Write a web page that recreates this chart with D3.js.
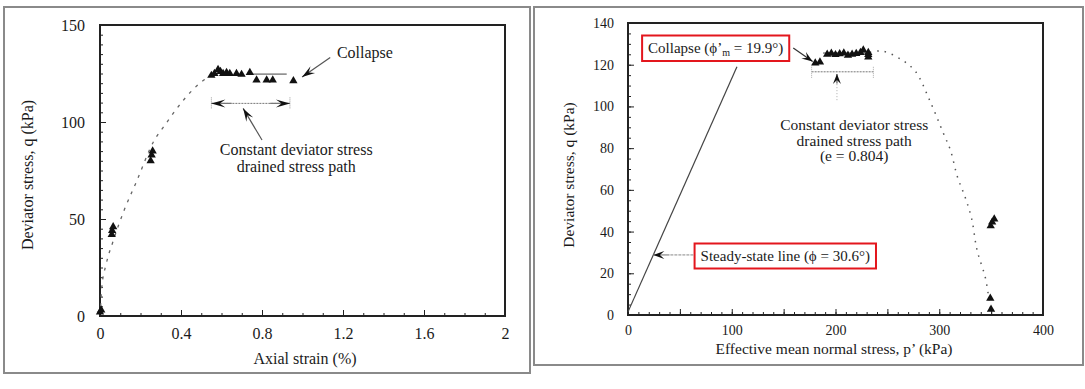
<!DOCTYPE html>
<html>
<head>
<meta charset="utf-8">
<script src="https://cdn.jsdelivr.net/npm/d3@7"></script>
<style>
  body { margin: 0; background: #fff; }
  .domain { display: none; }
  .tick line { stroke: #222; }
</style>
</head>
<body>
<div class="fig"></div>
<script>
//data
// left: deviator stress vs axial strain
const leftStrain = [0, 0.006, 0.058, 0.06, 0.065, 0.25, 0.255, 0.26, 0.55, 0.565, 0.583, 0.595, 0.608, 0.625, 0.641, 0.674, 0.699, 0.740, 0.773, 0.823, 0.853, 0.955];
const leftQ = [2, 3, 42, 44, 46, 80, 83, 85, 124, 125, 127, 126, 125, 125.5, 125, 125, 124.5, 125.5, 121.6, 121.6, 121.6, 121.2];
const leftTrendStrain = [0.003, 0.008, 0.031, 0.063, 0.121, 0.179, 0.265, 0.328, 0.369, 0.457, 0.525, 0.55];
const leftTrendQ = [5, 14, 27, 38, 55, 69, 90, 99.5, 105.5, 116.5, 122.5, 124];
const leftXTicks = [0, 0.4, 0.8, 1.2, 1.6, 2];
const leftYTicks = [0, 50, 100, 150];

// right: deviator stress vs effective mean normal stress
const rightP = [180.5, 185, 192, 196, 200, 204, 208, 212, 216, 220, 224, 226.8, 231.6, 231.6, 231.6, 349.6, 351, 353, 349.2, 349.9];
const rightQ = [120.8, 121.3, 125, 125.5, 124.8, 125.2, 125.6, 124.5, 125, 125.3, 125.8, 127, 123.7, 124.8, 125.8, 42.7, 44.5, 46, 8, 2.7];
const rightTrendP = [233, 245.5, 264, 277.3, 290.7, 304, 310.8, 317.5, 325.3, 331.3, 336.4, 344.4, 347.6, 349.5];
const rightTrendQ = [126, 126.5, 122.3, 116.6, 103, 87.1, 79, 66.3, 56, 46, 31.2, 18, 8.8, 3];
const steadyP = [0, 105];
const steadyQ = [1.5, 119];
const rightXTicks = [0, 100, 200, 300, 400];
const rightYTicks = [0, 20, 40, 60, 80, 100, 120, 140];

const FONT = '"Liberation Serif", "Times New Roman", "DejaVu Serif", serif';

//set up SVG
const SVGWIDTH = 1085;
const SVGHEIGHT = 389;

let svg = d3.select('.fig')
  .append('svg')
  .attr('width', SVGWIDTH)
  .attr('height', SVGHEIGHT);

svg.append('rect').attr('width', SVGWIDTH).attr('height', SVGHEIGHT).attr('fill', '#fff');

// panel frames
svg.append('rect').attr('x', 4).attr('y', 7).attr('width', 526).attr('height', 366)
  .attr('fill', 'none').attr('stroke', '#8a8a8a').attr('stroke-width', 2);
svg.append('rect').attr('x', 534).attr('y', 7).attr('width', 549).attr('height', 358)
  .attr('fill', 'none').attr('stroke', '#8a8a8a').attr('stroke-width', 2);

const tri = d3.symbol().type(d3.symbolTriangle).size(30);

function arrow(g, x1, y1, x2, y2, col, head) {
  g.append('line')
    .attr('x1', x1).attr('y1', y1).attr('x2', x2).attr('y2', y2)
    .attr('stroke', col).attr('stroke-width', 1.2);
  let a = Math.atan2(y2 - y1, x2 - x1);
  let L = head || 11, W = 4;
  let bx = x2 - L * Math.cos(a), by = y2 - L * Math.sin(a);
  let mx = x2 - L * 0.6 * Math.cos(a), my = y2 - L * 0.6 * Math.sin(a);
  g.append('path')
    .attr('d', `M${x2},${y2}L${bx - W * Math.sin(a)},${by + W * Math.cos(a)}L${mx},${my}L${bx + W * Math.sin(a)},${by - W * Math.cos(a)}Z`)
    .attr('fill', '#111');
}

// ---------------- LEFT PLOT ----------------
const L = { left: 100, right: 505, top: 25, bottom: 316 };
const xL = d3.scaleLinear().domain([0, 2]).range([L.left, L.right]);
const yL = d3.scaleLinear().domain([0, 150]).range([L.bottom, L.top]);

let gl = svg.append('g');

gl.append('g').attr('transform', `translate(0,${L.bottom})`)
  .call(d3.axisBottom(xL).tickValues(d3.range(0.1, 2, 0.1)).tickFormat('').tickSize(-3));
gl.append('g').attr('transform', `translate(0,${L.bottom})`)
  .call(d3.axisBottom(xL).tickValues(leftXTicks).tickFormat(d3.format('')).tickSize(-6).tickPadding(12))
  .selectAll('text').style('font-size', '16px');
gl.append('g').attr('transform', `translate(${L.left},0)`)
  .call(d3.axisLeft(yL).tickValues(d3.range(5, 150, 5)).tickFormat('').tickSize(-3));
gl.append('g').attr('transform', `translate(${L.left},0)`)
  .call(d3.axisLeft(yL).tickValues(leftYTicks).tickSize(-6).tickPadding(15))
  .selectAll('text').style('font-size', '16px');

gl.append('rect')
  .attr('x', L.left).attr('y', L.top)
  .attr('width', L.right - L.left).attr('height', L.bottom - L.top)
  .attr('fill', 'none').attr('stroke', '#222').attr('stroke-width', 2);

// dashed trend
gl.append('path')
  .datum(leftTrendStrain.map((d, i) => [d, leftTrendQ[i]]))
  .attr('d', d3.line().x(d => xL(d[0])).y(d => yL(d[1])).curve(d3.curveMonotoneX))
  .attr('fill', 'none').attr('stroke', '#666').attr('stroke-width', 1.3)
  .attr('stroke-dasharray', '3,6');

// constant q line
gl.append('line')
  .attr('x1', xL(0.74)).attr('x2', xL(0.922)).attr('y1', yL(124.7)).attr('y2', yL(124.7))
  .attr('stroke', '#444').attr('stroke-width', 1);

gl.selectAll('.pt')
  .data(leftStrain)
  .enter()
  .append('path')
  .attr('transform', (d, i) => `translate(${xL(d)},${yL(leftQ[i])})`)
  .attr('d', tri)
  .attr('fill', '#111');

// double arrow
let dy = yL(109.6);
gl.append('line').attr('x1', xL(0.55)).attr('x2', xL(0.938)).attr('y1', dy).attr('y2', dy)
  .attr('stroke', '#777').attr('stroke-width', 1).attr('stroke-dasharray', '2,1');
[0.55, 0.938].forEach(v => {
  gl.append('line').attr('x1', xL(v)).attr('x2', xL(v)).attr('y1', dy - 6).attr('y2', dy + 6)
    .attr('stroke', '#999').attr('stroke-width', 1).attr('stroke-dasharray', '1,1');
});
arrow(gl, xL(0.65), dy, xL(0.55), dy, '#777', 14);
arrow(gl, xL(0.84), dy, xL(0.938), dy, '#777', 14);

arrow(gl, xL(0.8), yL(90.7), xL(0.707), yL(107), '#555', 13);
arrow(gl, xL(1.137), yL(133.2), xL(0.998), yL(123.2), '#555', 13);

gl.append('text').attr('x', xL(1.17)).attr('y', yL(135.9)).attr('dominant-baseline', 'central')
  .style('font-size', '16px').text('Collapse');
gl.append('text').attr('x', xL(0.969)).attr('y', yL(85.6)).attr('dominant-baseline', 'central')
  .attr('text-anchor', 'middle').style('font-size', '16px').text('Constant deviator stress');
gl.append('text').attr('x', xL(0.969)).attr('y', yL(77.0)).attr('dominant-baseline', 'central')
  .attr('text-anchor', 'middle').style('font-size', '16px').text('drained stress path');

gl.append('text').attr('x', 305).attr('y', 358).attr('dominant-baseline', 'central')
  .attr('text-anchor', 'middle').style('font-size', '16px').text('Axial strain (%)');
gl.append('text').attr('transform', 'translate(27,175) rotate(-90)').attr('dominant-baseline', 'central')
  .attr('text-anchor', 'middle').style('font-size', '16px').text('Deviator stress, q (kPa)');

// ---------------- RIGHT PLOT ----------------
const R = { left: 628, right: 1043, top: 23, bottom: 315 };
const xR = d3.scaleLinear().domain([0, 400]).range([R.left, R.right]);
const yR = d3.scaleLinear().domain([0, 140]).range([R.bottom, R.top]);

let gr = svg.append('g');

gr.append('g').attr('transform', `translate(0,${R.bottom})`)
  .call(d3.axisBottom(xR).tickValues(d3.range(10, 400, 10)).tickFormat('').tickSize(-3));
gr.append('g').attr('transform', `translate(0,${R.bottom})`)
  .call(d3.axisBottom(xR).tickValues([50, 150, 250, 350]).tickFormat('').tickSize(-6));
gr.append('g').attr('transform', `translate(0,${R.bottom})`)
  .call(d3.axisBottom(xR).tickValues(rightXTicks).tickSize(-6).tickPadding(10))
  .selectAll('text').style('font-size', '14px');
gr.append('g').attr('transform', `translate(${R.left},0)`)
  .call(d3.axisLeft(yR).tickValues(d3.range(5, 140, 5)).tickFormat('').tickSize(-3));
gr.append('g').attr('transform', `translate(${R.left},0)`)
  .call(d3.axisLeft(yR).tickValues(rightYTicks).tickSize(-6).tickPadding(14))
  .selectAll('text').style('font-size', '14px');

gr.append('rect')
  .attr('x', R.left).attr('y', R.top)
  .attr('width', R.right - R.left).attr('height', R.bottom - R.top)
  .attr('fill', 'none').attr('stroke', '#222').attr('stroke-width', 2);

// steady-state line
gr.append('line')
  .attr('x1', xR(steadyP[0])).attr('y1', yR(steadyQ[0]))
  .attr('x2', xR(steadyP[1])).attr('y2', yR(steadyQ[1]))
  .attr('stroke', '#444').attr('stroke-width', 1.2);

// dotted path
gr.append('path')
  .datum(rightTrendP.map((d, i) => [d, rightTrendQ[i]]))
  .attr('d', d3.line().x(d => xR(d[0])).y(d => yR(d[1])).curve(d3.curveCatmullRom))
  .attr('fill', 'none').attr('stroke', '#555').attr('stroke-width', 1.5)
  .attr('stroke-dasharray', '1.5,6');

gr.append('line')
  .attr('x1', xR(188)).attr('x2', xR(231.6)).attr('y1', yR(125.6)).attr('y2', yR(125.6))
  .attr('stroke', '#444').attr('stroke-width', 1);

gr.selectAll('.pt')
  .data(rightP)
  .enter()
  .append('path')
  .attr('transform', (d, i) => `translate(${xR(d)},${yR(rightQ[i])})`)
  .attr('d', tri)
  .attr('fill', '#111');

// dimension line and up arrow
let ry = yR(116.6);
gr.append('line').attr('x1', xR(177)).attr('x2', xR(236.5)).attr('y1', ry).attr('y2', ry)
  .attr('stroke', '#777').attr('stroke-width', 1).attr('stroke-dasharray', '2,1');
[177, 236.5].forEach(v => {
  gr.append('line').attr('x1', xR(v)).attr('x2', xR(v)).attr('y1', ry - 5).attr('y2', ry + 7)
    .attr('stroke', '#aaa').attr('stroke-width', 1).attr('stroke-dasharray', '1,1');
});
gr.append('line').attr('x1', xR(201.4)).attr('x2', xR(201.4)).attr('y1', yR(103)).attr('y2', yR(111))
  .attr('stroke', '#aaa').attr('stroke-width', 1).attr('stroke-dasharray', '1,2');
arrow(gr, xR(201.4), yR(111), xR(201.4), yR(115.5), '#555', 10);

['Constant deviator stress', 'drained stress path', '(e = 0.804)'].forEach((t, i) => {
  gr.append('text').attr('x', xR(218)).attr('y', yR([91.1, 83.9, 76.7][i]))
    .attr('dominant-baseline', 'central').attr('text-anchor', 'middle')
    .style('font-size', '15.5px').text(t);
});

// boxed labels
let c1 = gr.append('text').attr('x', xR(84.5)).attr('y', 47.5)
  .attr('dominant-baseline', 'central').attr('text-anchor', 'middle').style('font-size', '15px')
  .style('font-family', FONT);
c1.append('tspan').text('Collapse (\u03D5\u2019');
c1.append('tspan').attr('dy', 4).style('font-size', '10px').text('m');
c1.append('tspan').attr('dy', -4).text(' = 19.9\u00B0)');

let c2 = gr.append('text').attr('x', xR(151.6)).attr('y', 255.5)
  .attr('dominant-baseline', 'central').attr('text-anchor', 'middle').style('font-size', '15px')
  .style('font-family', FONT)
  .text('Steady-state line (\u03D5 = 30.6\u00B0)');

[c1, c2].forEach(t => {
  let b = t.node().getBBox();
  gr.append('rect').attr('x', b.x - 6).attr('y', b.y - 4).attr('width', b.width + 12).attr('height', b.height + 8)
    .attr('fill', 'none').attr('stroke', '#e3161d').attr('stroke-width', 2);
});

arrow(gr, xR(159.3), yR(128), xR(178), yR(121.5), '#333', 11);
gr.append('line').attr('x1', xR(63)).attr('x2', xR(40)).attr('y1', yR(28.8)).attr('y2', yR(28.8))
  .attr('stroke', '#888').attr('stroke-width', 1).attr('stroke-dasharray', '3,1');
arrow(gr, xR(40), yR(28.8), xR(24.4), yR(28.8), '#888', 11);

gr.append('text').attr('x', 834).attr('y', 348).attr('dominant-baseline', 'central')
  .attr('text-anchor', 'middle').style('font-size', '15.5px').text('Effective mean normal stress, p\u2019 (kPa)');
gr.append('text').attr('transform', 'translate(568,175) rotate(-90)').attr('dominant-baseline', 'central')
  .attr('text-anchor', 'middle').style('font-size', '15.5px').text('Deviator stress, q (kPa)');

// serif type everywhere, like the scanned figure
svg.selectAll('text').style('font-family', FONT).style('fill', '#1a1a1a');
</script>
</body>
</html>
